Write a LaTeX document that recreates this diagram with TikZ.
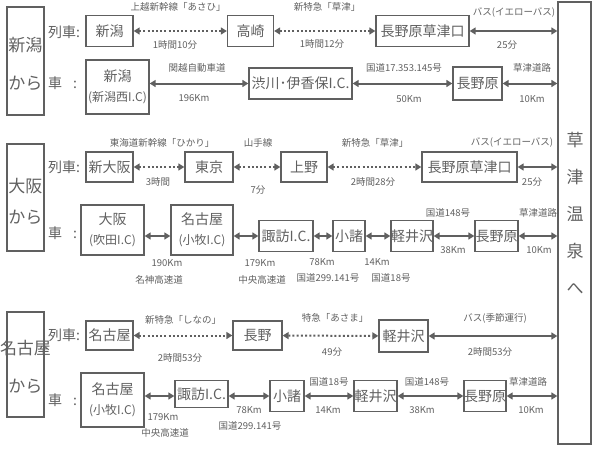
\documentclass[tikz,border=0pt]{standalone}
\usepackage{fontspec}
\setmainfont{Noto Sans CJK JP}
\usetikzlibrary{arrows.meta}
\definecolor{g}{RGB}{96,96,96}
\begin{document}
\begin{tikzpicture}[x=1pt,y=-1pt,
  bx/.style={draw=g, text=g, line width=1.3pt, inner sep=0pt, align=center, font=\fontsize{14}{15}\selectfont},
  bxx/.style={bx, font=\fontsize{14}{20}\selectfont},
  lbl/.style={text=g, inner sep=0pt, font=\fontsize{9.5}{10}\selectfont},
  big/.style={text=g, inner sep=0pt, font=\fontsize{17}{18}\selectfont},
  rowl/.style={text=g, inner sep=0pt, anchor=west, font=\fontsize{14}{15}\selectfont},
  sarr/.style={draw=g, line width=2pt, {Triangle[length=6pt,width=7pt]}-{Triangle[length=6pt,width=7pt]}},
  darr/.style={sarr, dash pattern=on 2pt off 2.2pt}]
\useasboundingbox (0,0) rectangle (600,450);
\newcommand{\ic}[1]{{\fontsize{12}{20}\selectfont #1}}
% left boxes
\node[bx, minimum width=37pt, minimum height=108pt] (fromN) at (25.5,61) {};
\node[big] (fromNt) at (25.5,45) {新潟};
\node[big] (fromNk) at (25.5,83) {から};
\node[bx, minimum width=37pt, minimum height=107pt] (fromO) at (25.5,197.5) {};
\node[big] (fromOt) at (25.5,186) {大阪};
\node[big] (fromOk) at (25.5,217) {から};
\node[bx, minimum width=37pt, minimum height=105pt] (fromG) at (25.5,364.5) {};
\node[big] (fromGt) at (25.5,348) {名古屋};
\node[big] (fromGk) at (25.5,386) {から};
% right box
\node[bx, minimum width=33pt, minimum height=442pt] (onsen) at (574.5,223) {};
\node[big, align=center, font=\fontsize{17}{37}\selectfont] (onsent) at (575,213) {草\\津\\温\\泉\\へ};
% row labels
\node[rowl] (r1) at (48,32) {列車:};
\node[rowl] (r2) at (48,83) {車\hspace{11pt}:};
\node[rowl] (r3) at (48,167) {列車:};
\node[rowl] (r4) at (48,233) {車\hspace{11pt}:};
\node[rowl] (r5) at (48,335) {列車:};
\node[rowl] (r6) at (48,400) {車\hspace{11pt}:};
% row 1
\node[bx, minimum width=47pt, minimum height=31pt] (n1a) at (109.5,31) {新潟};
\node[bx, minimum width=46pt, minimum height=31pt] (n1b) at (250.5,31) {高崎};
\node[bx, minimum width=93pt, minimum height=31pt] (n1c) at (422.5,31) {長野原草津口};
\draw[darr] (n1a) -- (n1b);
\draw[darr] (n1b) -- (n1c);
\draw[sarr] (n1c.east) -- (n1c.east -| onsen.west);
\node[lbl] (l1a) at (178,7) {上越新幹線「あさひ」};
\node[lbl] (l1b) at (175,45) {1時間10分};
\node[lbl] (l1c) at (327,7) {新特急「草津」};
\node[lbl] (l1d) at (322,44) {1時間12分};
\node[lbl] (l1e) at (514,13) {バス(イエローバス)};
\node[lbl] (l1f) at (507,45) {25分};
% row 2
\node[bxx, minimum width=63pt, minimum height=54pt] (n2a) at (117.5,87) {新潟\\\ic{(新潟西I.C)}};
\node[bx, minimum width=103pt, minimum height=31pt] (n2b) at (300.5,83.5) {渋川･伊香保I.C.};
\node[bx, minimum width=49pt, minimum height=33pt] (n2c) at (477.5,83.5) {長野原};
\draw[sarr] (n2b.west -| n2a.east) -- (n2b.west);
\draw[sarr] (n2b) -- (n2c);
\draw[sarr] (n2c.east) -- (n2c.east -| onsen.west);
\node[lbl] (l2a) at (197,68) {関越自動車道};
\node[lbl] (l2b) at (194,98) {196Km};
\node[lbl] (l2c) at (404,68) {国道17.353.145号};
\node[lbl] (l2d) at (409,99) {50Km};
\node[lbl] (l2e) at (532,68) {草津道路};
\node[lbl] (l2f) at (532,99) {10Km};
% row 3
\node[bx, minimum width=47pt, minimum height=30pt] (n3a) at (109.5,167) {新大阪};
\node[bx, minimum width=48pt, minimum height=30pt] (n3b) at (209,167) {東京};
\node[bx, minimum width=46pt, minimum height=30pt] (n3c) at (304,167) {上野};
\node[bx, minimum width=95pt, minimum height=30pt] (n3d) at (469.5,167) {長野原草津口};
\draw[darr] (n3a) -- (n3b);
\draw[darr] (n3b) -- (n3c);
\draw[darr] (n3c) -- (n3d);
\draw[sarr] (n3d.east) -- (n3d.east -| onsen.west);
\node[lbl] (l3a) at (162,143) {東海道新幹線「ひかり」};
\node[lbl] (l3b) at (158,182) {3時間};
\node[lbl] (l3c) at (258,143) {山手線};
\node[lbl] (l3d) at (258,190) {7分};
\node[lbl] (l3e) at (375,143) {新特急「草津」};
\node[lbl] (l3f) at (373,182) {2時間28分};
\node[lbl] (l3g) at (512,143) {バス(イエローバス)};
\node[lbl] (l3h) at (532,182) {25分};
% row 4
\node[bxx, minimum width=63pt, minimum height=50pt] (n4a) at (112.5,230) {大阪\\\ic{(吹田I.C)}};
\node[bxx, minimum width=62pt, minimum height=50pt] (n4b) at (202,230) {名古屋\\\ic{(小牧I.C)}};
\node[bx, minimum width=54pt, minimum height=31pt] (n4c) at (286,236) {諏訪I.C.};
\node[bx, minimum width=32pt, minimum height=31pt] (n4d) at (349,236) {小諸};
\node[bx, minimum width=42pt, minimum height=31pt] (n4e) at (412,236) {軽井沢};
\node[bx, minimum width=43pt, minimum height=31pt] (n4f) at (496.5,236) {長野原};
\draw[sarr] (n4c.west -| n4a.east) -- (n4c.west -| n4b.west);
\draw[sarr] (n4c.west -| n4b.east) -- (n4c.west);
\draw[sarr] (n4c) -- (n4d);
\draw[sarr] (n4d) -- (n4e);
\draw[sarr] (n4e) -- (n4f);
\draw[sarr] (n4f.east) -- (n4f.east -| onsen.west);
\node[lbl] (l4a) at (167,263) {190Km};
\node[lbl] (l4b) at (159,280) {名神高速道};
\node[lbl] (l4c) at (260,263) {179Km};
\node[lbl] (l4d) at (262,280) {中央高速道};
\node[lbl] (l4e) at (322,262) {78Km};
\node[lbl] (l4f) at (328,278) {国道299.141号};
\node[lbl] (l4g) at (377,262) {14Km};
\node[lbl] (l4h) at (391,278) {国道18号};
\node[lbl] (l4i) at (448,213) {国道148号};
\node[lbl] (l4j) at (453,250) {38Km};
\node[lbl] (l4k) at (538,213) {草津道路};
\node[lbl] (l4l) at (539,250) {10Km};
% row 5
\node[bx, minimum width=47pt, minimum height=29pt] (n5a) at (109.5,335.5) {名古屋};
\node[bx, minimum width=49pt, minimum height=29pt] (n5b) at (257.5,335.5) {長野};
\node[bx, minimum width=49pt, minimum height=32pt] (n5c) at (403.5,336) {軽井沢};
\draw[darr] (n5a) -- (n5b);
\draw[darr] (n5b) -- (n5c);
\draw[sarr] (n5c.east) -- (n5c.east -| onsen.west);
\node[lbl] (l5a) at (183,320) {新特急「しなの」};
\node[lbl] (l5b) at (180,358) {2時間53分};
\node[lbl] (l5c) at (335,318) {特急「あさま」};
\node[lbl] (l5d) at (332,352) {49分};
\node[lbl] (l5e) at (495,318) {バス(季節運行)};
\node[lbl] (l5f) at (490,352) {2時間53分};
% row 6
\node[bxx, minimum width=63pt, minimum height=54pt] (n6a) at (112.5,400) {名古屋\\\ic{(小牧I.C)}};
\node[bx, minimum width=53pt, minimum height=27pt] (n6b) at (201.5,394) {諏訪I.C.};
\node[bx, minimum width=34pt, minimum height=31pt] (n6c) at (287,396) {小諸};
\node[bx, minimum width=43pt, minimum height=31pt] (n6d) at (375.5,396) {軽井沢};
\node[bx, minimum width=42pt, minimum height=31pt] (n6e) at (485,396) {長野原};
\draw[sarr] (n6c.west -| n6a.east) -- (n6c.west -| n6b.west);
\draw[sarr] (n6c.west -| n6b.east) -- (n6c.west);
\draw[sarr] (n6c) -- (n6d);
\draw[sarr] (n6d) -- (n6e);
\draw[sarr] (n6e.east) -- (n6e.east -| onsen.west);
\node[lbl] (l6a) at (163,417) {179Km};
\node[lbl] (l6b) at (165,433) {中央高速道};
\node[lbl] (l6c) at (249,410) {78Km};
\node[lbl] (l6d) at (250,426) {国道299.141号};
\node[lbl] (l6e) at (329,382) {国道18号};
\node[lbl] (l6f) at (328,410) {14Km};
\node[lbl] (l6g) at (427,382) {国道148号};
\node[lbl] (l6h) at (422,410) {38Km};
\node[lbl] (l6i) at (528,382) {草津道路};
\node[lbl] (l6j) at (531,410) {10Km};
\end{tikzpicture}
\end{document}
